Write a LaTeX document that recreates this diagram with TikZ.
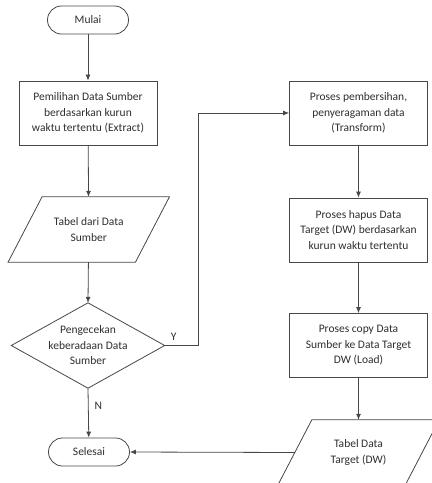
\documentclass[tikz,border=0pt]{standalone}
\usepackage{fontspec}
\setmainfont{Carlito}
\usepackage{tikz}
\usetikzlibrary{calc,arrows.meta,shapes.geometric,positioning}
\colorlet{lineC}{black!72}
\colorlet{textC}{black!82}

\begin{document}
\begin{tikzpicture}[x=1pt, y=-1pt,
    font=\fontsize{11.5}{15.5}\selectfont, text=textC,
    every node/.style={align=center, inner sep=0pt},
    terminal/.style={draw=lineC, line width=0.8pt, rounded corners=14pt, minimum width=81pt, minimum height=28pt},
    procbox/.style={draw=lineC, line width=0.8pt, minimum width=138pt, minimum height=64pt},
    databox/.style={minimum width=127pt, minimum height=65pt},
    decide/.style={minimum width=153pt, minimum height=85pt},
    flow/.style={draw=lineC, line width=0.8pt, -{Latex[length=6pt,width=5pt]}}]
  \useasboundingbox (0,0) rectangle (432,483);

  % left column
  \node[terminal] (mulai) at (88,20) {Mulai};
  \node[procbox] (pilih) at (88,113) {Pemilihan Data Sumber\\ berdasarkan kurun\\ waktu tertentu (Extract)};
  \node[databox] (tabelA) at (88.75,229.5) {Tabel dari Data\\ Sumber};
  \node[decide] (cek) at (88,345.5) {Pengecekan\\ keberadaan Data\\ Sumber};
  \node[terminal] (selesai) at (89,452) {Selesai};

  % right column
  \node[procbox] (bersih) at (358.5,113) {Proses pembersihan,\\ penyeragaman data\\ (Transform)};
  \node[procbox] (hapus) at (358.5,230) {Proses hapus Data\\ Target (DW) berdasarkan\\ kurun waktu tertentu};
  \node[procbox] (salin) at (358.5,345.5) {Proses copy Data\\ Sumber ke Data Target\\ DW (Load)};
  \node[databox] (tabelB) at (358.5,452.5) {Tabel Data\\ Target (DW)};

  % parallelograms (slant of 34 drawn round the data nodes)
  \foreach \n in {tabelA, tabelB} {
    \draw[lineC, line width=0.8pt] ($(\n.north west)+(17,0)$) -- ($(\n.north east)+(17,0)$)
      -- ($(\n.south east)+(-17,0)$) -- ($(\n.south west)+(-17,0)$) -- cycle;
  }
  % decision diamond
  \draw[lineC, line width=0.8pt] (cek.north) -- (cek.east) -- (cek.south) -- (cek.west) -- cycle;
  \coordinate (tabelB-left) at (tabelB.west);

  % connectors
  \draw[flow] (mulai) -- (pilih);
  \draw[flow] (pilih) -- (tabelA);
  \draw[flow] (tabelA) -- (cek.north);
  \draw[flow] (cek.south) -- (selesai) node[pos=0.36, right=6pt] {N};
  \draw[flow] (cek.east) -- ++(34,0) coordinate (belok) |- (bersih.west);
  \node[above left=5pt and 22pt] at (belok) {Y};
  \draw[flow] (bersih) -- (hapus);
  \draw[flow] (hapus) -- (salin);
  \draw[flow] (salin) -- (tabelB);
  \draw[flow] (tabelB-left) -- (selesai.east);
\end{tikzpicture}
\end{document}
